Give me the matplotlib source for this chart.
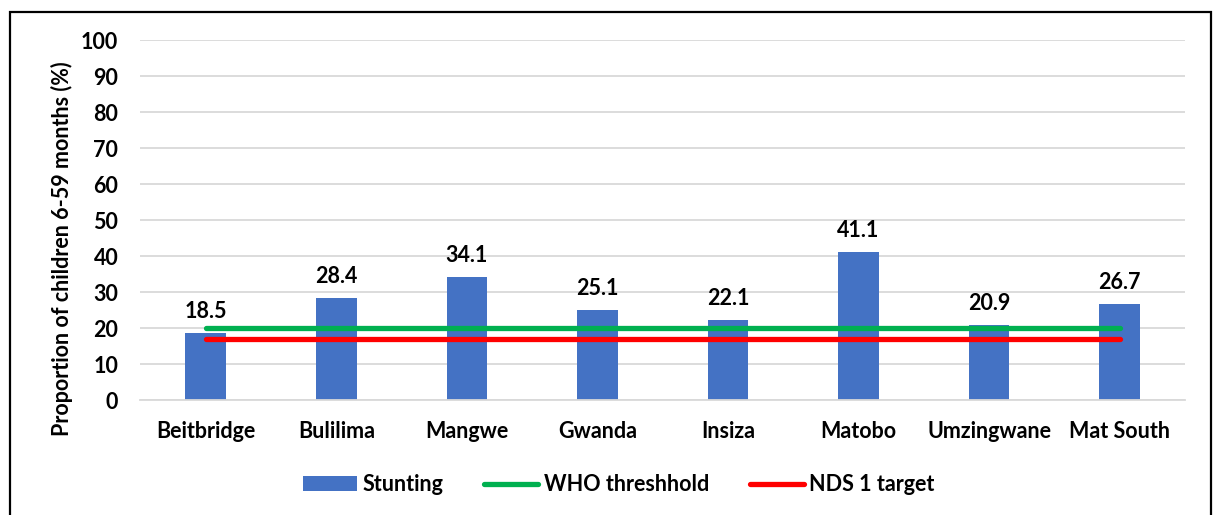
import matplotlib
matplotlib.use("Agg")
import matplotlib.pyplot as plt
from matplotlib.patches import Rectangle

districts = ["Beitbridge", "Bulilima", "Mangwe", "Gwanda", "Insiza", "Matobo", "Umzingwane", "Mat South"]
stunting = [18.5, 28.4, 34.1, 25.1, 22.1, 41.1, 20.9, 26.7]
who_threshold = [20] * len(districts)
nds_target = [17] * len(districts)
yticks = [0, 10, 20, 30, 40, 50, 60, 70, 80, 90, 100]

plt.rcParams['font.family'] = ['Lato', 'DejaVu Sans']
plt.rcParams['font.weight'] = 'bold'

FS = 15.5

fig = plt.figure(figsize=(12.16, 5.15), dpi=100)
ax = fig.add_axes([0.1155, 0.2233, 0.859, 0.699])

x = list(range(len(districts)))
bars = ax.bar(x, stunting, width=0.31, color="#4472C4", label="Stunting", zorder=2)
l1, = ax.plot(x, who_threshold, color="#00B050", lw=3.8, solid_capstyle="round", label="WHO threshhold", zorder=3)
l2, = ax.plot(x, nds_target, color="#FF0000", lw=3.8, solid_capstyle="round", label="NDS 1 target", zorder=3)

for xi, v in zip(x, stunting):
    ax.annotate(f"{v}", (xi, v), xytext=(0, 8), textcoords="offset points",
                ha="center", va="bottom", fontsize=FS, fontweight="bold")

ax.set_xlim(-0.5, len(districts) - 0.5)
ax.set_ylim(0, 100)
ax.set_yticks(yticks)
ax.set_xticks(x)
ax.set_xticklabels(districts, fontsize=FS, fontweight="bold")
ax.tick_params(axis="y", labelsize=FS, length=0, pad=16)
ax.tick_params(axis="x", length=0, pad=15)
ax.yaxis.grid(True, color="#D9D9D9", lw=1.3, zorder=0)
ax.set_axisbelow(True)
for s in ["top", "right", "left"]:
    ax.spines[s].set_visible(False)
ax.spines["bottom"].set_color("#D9D9D9")
ax.spines["bottom"].set_linewidth(1.3)

ax.set_ylabel("Proportion of children 6-59 months (%)", fontsize=FS, fontweight="bold")
ax.yaxis.set_label_coords(-0.065, 0.42)

ax.legend([bars, l1, l2], ["Stunting", "WHO threshhold", "NDS 1 target"],
          loc="center", bbox_to_anchor=(0.458, -0.235), ncol=3, frameon=False,
          fontsize=FS, handlelength=2.5, handletextpad=0.25, columnspacing=1.9)

fig.patches.append(Rectangle((10/1216, -0.01), 1201/1216, 1.01 - 12/515, transform=fig.transFigure,
                             fill=False, edgecolor="black", lw=1.6))

fig.savefig("out.png", dpi=100)
